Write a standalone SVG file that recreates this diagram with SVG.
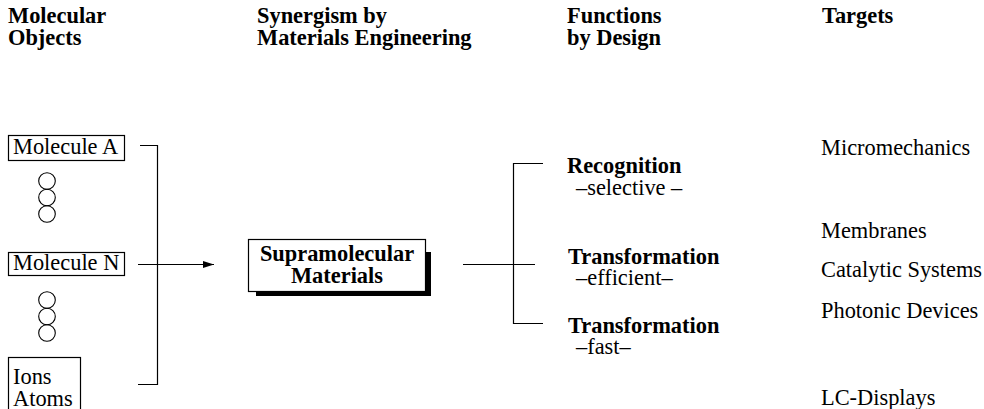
<svg xmlns="http://www.w3.org/2000/svg" width="984" height="409" viewBox="0 0 984 409">
  <style>
    text { font-family: "Liberation Serif", "Times New Roman", serif; font-size: 22.4px; fill: #000; }
    .b { font-weight: bold; }
    .box { fill: #fff; stroke: #000; stroke-width: 1.2; }
    .ring { fill: none; stroke: #000; stroke-width: 1.1; }
    .ln { fill: none; stroke: #000; stroke-width: 1.2; }
  </style>
  <defs>
    <marker id="arrow" markerWidth="12" markerHeight="8" refX="11" refY="4" orient="auto" markerUnits="userSpaceOnUse">
      <path d="M0,0.5 L11,4 L0,7.5 Z" fill="#000"/>
    </marker>
  </defs>
  <rect width="984" height="409" fill="#fff"/>

  <!-- column headings -->
  <g id="headings">
    <text class="b" x="8" y="23">Molecular</text>
    <text class="b" x="8" y="45">Objects</text>
    <text class="b" x="257" y="23">Synergism by</text>
    <text class="b" x="257" y="45">Materials Engineering</text>
    <text class="b" x="567" y="23">Functions</text>
    <text class="b" x="567" y="45">by Design</text>
    <text class="b" x="822" y="23">Targets</text>
  </g>

  <!-- molecular objects -->
  <g id="molecule-a">
    <rect class="box" x="8.5" y="135.5" width="116" height="25"/>
    <text x="13" y="154">Molecule A</text>
  </g>
  <g id="dots-1">
    <circle class="ring" cx="47" cy="181" r="8.3"/>
    <circle class="ring" cx="47" cy="197.5" r="8.3"/>
    <circle class="ring" cx="47" cy="214" r="8.3"/>
  </g>
  <g id="molecule-n">
    <rect class="box" x="8.5" y="252.5" width="116" height="23"/>
    <text x="13" y="270">Molecule N</text>
  </g>
  <g id="dots-2">
    <circle class="ring" cx="47" cy="300" r="8.3"/>
    <circle class="ring" cx="47" cy="316.5" r="8.3"/>
    <circle class="ring" cx="47" cy="333" r="8.3"/>
  </g>
  <g id="ions-atoms">
    <rect class="box" x="8.5" y="357.5" width="72" height="60"/>
    <text x="13" y="384">Ions</text>
    <text x="13" y="406">Atoms</text>
  </g>

  <!-- central material -->
  <g id="supramolecular">
    <rect x="256" y="252" width="175" height="44" fill="#000"/>
    <rect class="box" x="248.5" y="239.5" width="177" height="52"/>
    <text class="b" x="337" y="261" text-anchor="middle">Supramolecular</text>
    <text class="b" x="337" y="283" text-anchor="middle">Materials</text>
  </g>

  <!-- functions -->
  <g id="recognition">
    <text class="b" x="567" y="173">Recognition</text>
    <text x="576" y="195">–selective –</text>
  </g>
  <g id="transformation-efficient">
    <text class="b" x="568" y="264">Transformation</text>
    <text x="576" y="285">–efficient–</text>
  </g>
  <g id="transformation-fast">
    <text class="b" x="568" y="333">Transformation</text>
    <text x="576" y="354">–fast–</text>
  </g>

  <!-- targets -->
  <g id="targets">
    <text x="821" y="155">Micromechanics</text>
    <text x="821" y="238">Membranes</text>
    <text x="821" y="277">Catalytic Systems</text>
    <text x="821" y="318">Photonic Devices</text>
    <text x="821" y="405">LC-Displays</text>
  </g>

  <!-- connectors -->
  <g id="connectors">
    <path class="ln" d="M140,145.5 H157.5 V384.5 H138"/>
    <path class="ln" d="M138,264.5 H214" marker-end="url(#arrow)"/>
    <path class="ln" d="M463,264.5 H535"/>
    <path class="ln" d="M543,163.5 H513.5 V323.5 H543"/>
  </g>
</svg>
